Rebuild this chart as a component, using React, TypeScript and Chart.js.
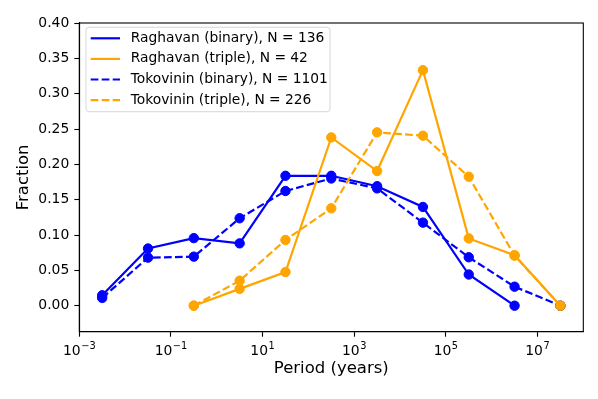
import React, { useEffect, useRef } from 'react';
import { Chart, registerables } from 'chart.js';

Chart.register(...registerables);

// Bin-centre periods (years), half-decades from 10^-2.5 to 10^7.5
const periods = [0.00316, 0.0316, 0.316, 3.16, 31.6, 316, 3162, 31623, 316228, 3162278, 31622777];

const raghavanBinaryPeriods = periods.slice(0, 10);
const raghavanBinary = [0.0147, 0.0809, 0.0956, 0.0882, 0.1838, 0.1838, 0.1691, 0.1397, 0.0441, 0.0];

const raghavanTriplePeriods = periods.slice(2, 11);
const raghavanTriple = [0.0, 0.0238, 0.0476, 0.2381, 0.1905, 0.3333, 0.0952, 0.0714, 0.0];

const tokovininBinaryPeriods = periods.slice(0, 11);
const tokovininBinary = [0.011, 0.068, 0.0694, 0.1237, 0.1623, 0.18, 0.166, 0.1175, 0.0685, 0.0269, 0.0];

const tokovininTriplePeriods = periods.slice(2, 11);
const tokovininTriple = [0.0, 0.0354, 0.093, 0.1378, 0.2453, 0.2405, 0.1825, 0.0708, 0.0];

const seriesLabels = [
  'Raghavan (binary), N = 136',
  'Raghavan (triple), N = 42',
  'Tokovinin (binary), N = 1101',
  'Tokovinin (triple), N = 226',
];

const xTickValues = [1e-3, 1e-1, 1e1, 1e3, 1e5, 1e7];
const xTickExponents = ['−3', '−1', '1', '3', '5', '7'];
const yTickValues = [0, 0.05, 0.1, 0.15, 0.2, 0.25, 0.3, 0.35, 0.4];

const BLUE = '#0000ff';
const ORANGE = '#ffa500';
const FONT = 'DejaVu Sans';
const DASH = [7.7, 3.3];

const framePlugin = {
  id: 'mplFrame',
  afterDraw(chart: any) {
    const { ctx, chartArea: a } = chart;
    ctx.save();
    ctx.strokeStyle = '#000';
    ctx.lineWidth = 1.1;
    ctx.strokeRect(a.left, a.top, a.right - a.left, a.bottom - a.top);
    ctx.restore();
  },
};

const xLabelPlugin = {
  id: 'mathTextTicks',
  afterDraw(chart: any) {
    const { ctx } = chart;
    const xs = chart.scales.x;
    const baseY = xs.top + 23.5;
    ctx.save();
    ctx.fillStyle = '#000';
    ctx.textBaseline = 'alphabetic';
    ctx.textAlign = 'left';
    xTickValues.forEach((v, i) => {
      const px = xs.getPixelForValue(v);
      ctx.font = `13.9px "${FONT}"`;
      const wBase = ctx.measureText('10').width;
      ctx.font = `9.8px "${FONT}"`;
      const wExp = ctx.measureText(xTickExponents[i]).width;
      const left = px - (wBase + wExp + 0.5) / 2;
      ctx.font = `13.9px "${FONT}"`;
      ctx.fillText('10', left, baseY);
      ctx.font = `9.8px "${FONT}"`;
      ctx.fillText(xTickExponents[i], left + wBase + 0.5, baseY - 6);
    });
    ctx.restore();
  },
};

const legendPlugin = {
  id: 'mplLegend',
  afterDraw(chart: any) {
    const { ctx, chartArea: a } = chart;
    const x0 = a.left + 6.7;
    const y0 = a.top + 4.3;
    const w = 244;
    const h = 84.4;
    const r = 3;
    ctx.save();
    ctx.beginPath();
    ctx.moveTo(x0 + r, y0);
    ctx.lineTo(x0 + w - r, y0);
    ctx.quadraticCurveTo(x0 + w, y0, x0 + w, y0 + r);
    ctx.lineTo(x0 + w, y0 + h - r);
    ctx.quadraticCurveTo(x0 + w, y0 + h, x0 + w - r, y0 + h);
    ctx.lineTo(x0 + r, y0 + h);
    ctx.quadraticCurveTo(x0, y0 + h, x0, y0 + h - r);
    ctx.lineTo(x0, y0 + r);
    ctx.quadraticCurveTo(x0, y0, x0 + r, y0);
    ctx.closePath();
    ctx.fillStyle = 'rgba(255,255,255,0.8)';
    ctx.fill();
    ctx.strokeStyle = 'rgba(204,204,204,0.8)';
    ctx.lineWidth = 1;
    ctx.stroke();

    chart.data.datasets.forEach((ds: any, i: number) => {
      const cy = y0 + 11 + i * 20.6;
      ctx.beginPath();
      ctx.setLineDash(ds.borderDash || []);
      ctx.strokeStyle = ds.borderColor;
      ctx.lineWidth = 2.2;
      ctx.moveTo(x0 + 4.7, cy);
      ctx.lineTo(x0 + 34, cy);
      ctx.stroke();
      ctx.setLineDash([]);
      ctx.fillStyle = '#000';
      ctx.font = `13.8px "${FONT}"`;
      ctx.textBaseline = 'middle';
      ctx.textAlign = 'left';
      ctx.fillText(ds.label, x0 + 44.7, cy);
    });
    ctx.restore();
  },
};

function makeDataset(label: string, xs: number[], ys: number[], color: string, dashed: boolean, order: number) {
  return {
    label,
    data: xs.map((x, i) => ({ x, y: ys[i] })),
    borderColor: color,
    backgroundColor: color,
    pointBackgroundColor: color,
    pointBorderColor: color,
    pointBorderWidth: 1,
    pointRadius: 4.7,
    borderWidth: 2.2,
    borderDash: dashed ? DASH : [],
    tension: 0,
    fill: false,
    clip: false as any,
    order,
  };
}

export default function App() {
  const canvasRef = useRef<HTMLCanvasElement | null>(null);

  useEffect(() => {
    const canvas = canvasRef.current;
    if (!canvas) return;
    const chart = new Chart(canvas, {
      type: 'line',
      data: {
        datasets: [
          makeDataset(seriesLabels[0], raghavanBinaryPeriods, raghavanBinary, BLUE, false, 3),
          makeDataset(seriesLabels[1], raghavanTriplePeriods, raghavanTriple, ORANGE, false, 2),
          makeDataset(seriesLabels[2], tokovininBinaryPeriods, tokovininBinary, BLUE, true, 1),
          makeDataset(seriesLabels[3], tokovininTriplePeriods, tokovininTriple, ORANGE, true, 0),
        ] as any,
      },
      options: {
        responsive: false,
        animation: false,
        devicePixelRatio: 1,
        layout: { padding: { top: 23, right: 14.7, left: 0, bottom: 0 } },
        plugins: {
          legend: { display: false },
          tooltip: { enabled: false },
        },
        scales: {
          x: {
            type: 'logarithmic',
            min: 1e-3,
            max: 1e8,
            afterBuildTicks: (scale: any) => {
              scale.ticks = xTickValues.map((v) => ({ value: v }));
            },
            afterFit: (scale: any) => {
              scale.height = 67.3;
            },
            ticks: {
              autoSkip: false,
              maxRotation: 0,
              minRotation: 0,
              padding: 4,
              color: 'rgba(0,0,0,0)',
              font: { family: FONT, size: 13.9 },
              callback: () => '10',
            },
            grid: {
              drawOnChartArea: false,
              drawTicks: true,
              tickLength: 5,
              tickWidth: 1.1,
              tickColor: '#000',
              color: '#000',
            },
            border: { display: true, color: '#000', width: 1.1 },
            title: {
              display: true,
              text: 'Period (years)',
              color: '#000',
              font: { family: FONT, size: 16.5 },
              padding: { top: 0, bottom: 20 },
            },
          },
          y: {
            type: 'linear',
            min: -0.0368,
            max: 0.4,
            afterBuildTicks: (scale: any) => {
              scale.ticks = yTickValues.map((v) => ({ value: v }));
            },
            afterFit: (scale: any) => {
              scale.width = 79.3;
            },
            ticks: {
              padding: 5,
              color: '#000',
              font: { family: FONT, size: 13.9 },
              callback: (value: any) => Number(value).toFixed(2),
            },
            grid: {
              drawOnChartArea: false,
              drawTicks: true,
              tickLength: 5,
              tickWidth: 1.1,
              tickColor: '#000',
              color: '#000',
            },
            border: { display: true, color: '#000', width: 1.1 },
            title: {
              display: true,
              text: 'Fraction',
              color: '#000',
              font: { family: FONT, size: 16.5 },
              padding: { top: 14, bottom: 0 },
            },
          },
        },
      } as any,
      plugins: [framePlugin, xLabelPlugin, legendPlugin],
    });
    return () => chart.destroy();
  }, []);

  return (
    <div style={{ position: 'fixed', left: 0, top: 0, width: 598, height: 399, background: '#fff' }}>
      <canvas ref={canvasRef} width={598} height={399} style={{ width: 598, height: 399, display: 'block' }} />
    </div>
  );
}
